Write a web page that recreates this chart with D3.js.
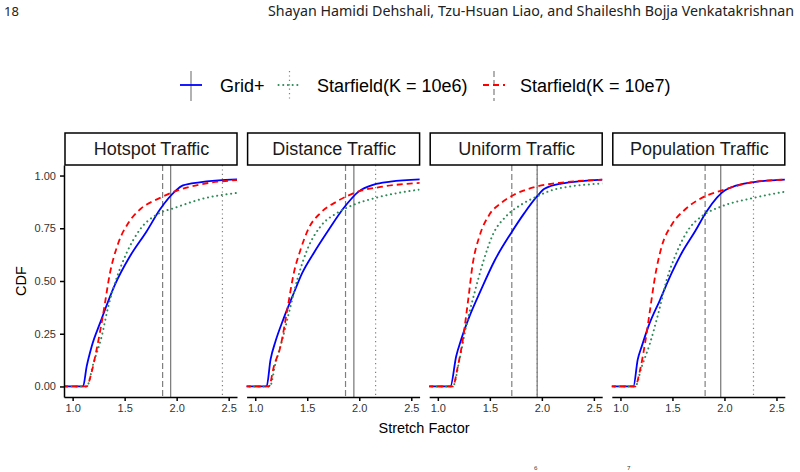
<!DOCTYPE html>
<html><head><meta charset="utf-8">
<script src="https://cdn.jsdelivr.net/npm/d3@7"></script>
<style>
html,body{margin:0;padding:0;background:#fff;}
svg{display:block;}
</style></head>
<body>
<svg id="chart" width="800" height="472"></svg>
<script>
// ---------------- data ----------------
const panelNames = ["Hotspot Traffic", "Distance Traffic", "Uniform Traffic", "Population Traffic"];
const seriesNames = ["Grid+", "Starfield(K = 10e6)", "Starfield(K = 10e7)"];
const xTicks = [1.0, 1.5, 2.0, 2.5];
const yTicks = [0, 0.25, 0.5, 0.75, 1.0];

// CDF points [stretch factor, cdf] per panel
const hotspotGrid = [[0.9,0],[1.10,0],[1.135,0.095],[1.183,0.19],[1.263,0.30],[1.407,0.483],[1.551,0.617],[1.712,0.736],[1.839,0.839],[1.984,0.925],[2.06,0.953],[2.22,0.968],[2.6,0.982]];
const hotspotK6   = [[0.9,0],[1.135,0],[1.2,0.11],[1.279,0.237],[1.343,0.38],[1.407,0.49],[1.519,0.633],[1.647,0.744],[1.808,0.815],[1.984,0.847],[2.22,0.886],[2.6,0.919]];
const hotspotK7   = [[0.9,0],[1.135,0],[1.18,0.063],[1.23,0.174],[1.295,0.348],[1.359,0.538],[1.439,0.68],[1.535,0.775],[1.647,0.839],[1.84,0.894],[1.984,0.925],[2.22,0.957],[2.6,0.979]];

const distanceGrid = [[0.9,0],[1.109,0],[1.147,0.127],[1.195,0.214],[1.275,0.325],[1.371,0.443],[1.452,0.538],[1.563,0.633],[1.708,0.744],[1.852,0.847],[1.996,0.925],[2.14,0.957],[2.30,0.971],[2.6,0.982]];
const distanceK6   = [[0.9,0],[1.14,0],[1.195,0.11],[1.26,0.222],[1.323,0.348],[1.404,0.506],[1.5,0.649],[1.628,0.759],[1.788,0.823],[1.948,0.862],[2.157,0.894],[2.6,0.935]];
const distanceK7   = [[0.9,0],[1.131,0],[1.179,0.095],[1.243,0.19],[1.308,0.364],[1.371,0.538],[1.436,0.649],[1.516,0.752],[1.628,0.823],[1.788,0.878],[1.996,0.925],[2.205,0.946],[2.6,0.966]];

const uniformGrid = [[0.9,0],[1.121,0],[1.176,0.142],[1.224,0.222],[1.304,0.332],[1.416,0.459],[1.544,0.595],[1.705,0.728],[1.833,0.823],[1.955,0.902],[2.025,0.937],[2.186,0.962],[2.6,0.981]];
const uniformK6   = [[0.9,0],[1.144,0],[1.208,0.127],[1.272,0.285],[1.352,0.443],[1.433,0.586],[1.529,0.72],[1.657,0.807],[1.801,0.862],[1.945,0.899],[2.121,0.934],[2.6,0.963]];
const uniformK7   = [[0.9,0],[1.144,0],[1.192,0.095],[1.24,0.222],[1.288,0.396],[1.337,0.586],[1.4,0.712],[1.496,0.815],[1.609,0.87],[1.737,0.91],[1.962,0.949],[2.218,0.968],[2.6,0.981]];

const populationGrid = [[0.9,0],[1.125,0],[1.166,0.127],[1.205,0.19],[1.269,0.285],[1.381,0.411],[1.493,0.538],[1.589,0.633],[1.718,0.736],[1.83,0.831],[2.006,0.93],[2.263,0.968],[2.6,0.981]];
const populationK6   = [[0.9,0],[1.141,0],[1.205,0.095],[1.285,0.206],[1.365,0.348],[1.445,0.506],[1.525,0.617],[1.654,0.744],[1.782,0.807],[1.974,0.854],[2.279,0.894],[2.6,0.925]];
const populationK7   = [[0.9,0],[1.141,0],[1.189,0.079],[1.237,0.206],[1.285,0.364],[1.333,0.522],[1.397,0.664],[1.493,0.767],[1.621,0.839],[1.782,0.894],[2.006,0.934],[2.263,0.968],[2.6,0.981]];

// vertical reference lines per panel
const refGrid = [1.942, 1.948, 1.955, 1.964];
const refK6   = [2.44, 2.157, 1.955, 2.279];
const refK7   = [1.865, 1.868, 1.711, 1.814];

const panelSeries = [
  [hotspotGrid, hotspotK6, hotspotK7],
  [distanceGrid, distanceK6, distanceK7],
  [uniformGrid, uniformK6, uniformK7],
  [populationGrid, populationK6, populationK7]
];
const panelRefs = panelNames.map((_, i) => [refGrid[i], refK6[i], refK7[i]]);

// ---------------- styles ----------------
const colors = ["#0000FF", "#2E8B57", "#FF0000"];
const dashes = [null, "0.1,4.6", "6,4"];
const widths = [1.8, 2.0, 1.8];
const caps = ["butt", "round", "butt"];
const refDashes = [null, "1.2,3.2", "6,3"];
const FONT = "'Liberation Sans', Arial, Helvetica, sans-serif";

const svg = d3.select("#chart");

// header
svg.append("text").attr("x", 4).attr("y", 16)
  .attr("font-family", "'Linux Biolinum O','Linux Biolinum','Noto Sans',sans-serif")
  .attr("font-size", 13).attr("fill", "#222").text("18");
svg.append("text").attr("x", 794).attr("y", 16).attr("text-anchor", "end")
  .attr("font-family", "'Linux Biolinum O','Linux Biolinum','Noto Sans',sans-serif")
  .attr("font-size", 14).attr("fill", "#222")
  .attr("textLength", 526).attr("lengthAdjust", "spacingAndGlyphs")
  .text("Shayan Hamidi Dehshali, Tzu-Hsuan Liao, and Shaileshh Bojja Venkatakrishnan");

// layout
const PANEL_LEFT = 64, PANEL_STEP = 182.6, PANEL_W = 173;
const PLOT_TOP = 165, PLOT_BOTTOM = 397;
const STRIP_TOP = 133;

const y = d3.scaleLinear().domain([-0.05, 1.05]).range([PLOT_BOTTOM, PLOT_TOP]);

const defs = svg.append("defs");

panelNames.forEach((name, i) => {
  const L = PANEL_LEFT + i * PANEL_STEP;
  const x = d3.scaleLinear().domain([0.917, 2.58]).range([L, L + PANEL_W]);
  const g = svg.append("g");

  defs.append("clipPath").attr("id", "clip" + i)
    .append("rect").attr("x", L).attr("y", PLOT_TOP).attr("width", PANEL_W).attr("height", PLOT_BOTTOM - PLOT_TOP);

  const plot = g.append("g").attr("clip-path", `url(#clip${i})`);

  // reference vertical lines
  panelRefs[i].forEach((v, s) => {
    plot.append("line")
      .attr("x1", x(v)).attr("x2", x(v))
      .attr("y1", PLOT_TOP).attr("y2", PLOT_BOTTOM)
      .attr("stroke", "#7f7f7f").attr("stroke-width", s === 0 ? 1.3 : 1.2)
      .attr("stroke-dasharray", refDashes[s]);
  });

  const line = d3.line().x(d => x(d[0])).y(d => y(d[1])).curve(d3.curveMonotoneX);
  [0, 1, 2].forEach(s => {
    plot.append("path").datum(panelSeries[i][s])
      .attr("d", line).attr("fill", "none")
      .attr("stroke", colors[s])
      .attr("stroke-width", widths[s])
      .attr("stroke-linecap", caps[s])
      .attr("stroke-dasharray", dashes[s]);
  });

  // x axis
  const xa = g.append("g").attr("transform", `translate(0,${PLOT_BOTTOM})`)
    .call(d3.axisBottom(x).tickValues(xTicks).tickFormat(d3.format(".1f")).tickSize(4).tickSizeOuter(0).tickPadding(3));
  xa.select(".domain").attr("stroke", "#000").attr("stroke-width", 1.5);
  xa.selectAll(".tick line").attr("stroke", "#000").attr("stroke-width", 1.5);
  xa.selectAll("text").attr("font-family", FONT).attr("font-size", 11).attr("fill", "#333");

  if (i === 0) {
    const ya = g.append("g").attr("transform", `translate(${L},0)`)
      .call(d3.axisLeft(y).tickValues(yTicks).tickFormat(d3.format(".2f")).tickSize(4).tickSizeOuter(0).tickPadding(4));
    ya.select(".domain").attr("stroke", "#000").attr("stroke-width", 1.5);
    ya.selectAll(".tick line").attr("stroke", "#000").attr("stroke-width", 1.5);
    ya.selectAll("text").attr("font-family", FONT).attr("font-size", 11).attr("fill", "#333");
  }

  // strip
  g.append("rect").attr("x", L + 1).attr("y", STRIP_TOP)
    .attr("width", PANEL_W - 1).attr("height", PLOT_TOP - STRIP_TOP)
    .attr("fill", "#fff").attr("stroke", "#000").attr("stroke-width", 1.5);
  g.append("text").attr("x", L + 1 + PANEL_W / 2).attr("y", (STRIP_TOP + PLOT_TOP) / 2 + 6.3)
    .attr("text-anchor", "middle").attr("font-family", FONT).attr("font-size", 18)
    .attr("fill", "#1a1a1a").text(name);
});

// axis titles
svg.append("text").attr("x", 424).attr("y", 433).attr("text-anchor", "middle")
  .attr("font-family", FONT).attr("font-size", 14.5).attr("fill", "#000").text("Stretch Factor");
svg.append("text").attr("transform", `translate(26,${(PLOT_TOP + PLOT_BOTTOM) / 2}) rotate(-90)`)
  .attr("text-anchor", "middle").attr("font-family", FONT).attr("font-size", 14.5).attr("fill", "#000").text("CDF");

// legend
const legendKeyX = [191, 289.5, 494];
const legendTextX = [220, 317, 520];
const LEG_Y = 85;
seriesNames.forEach((n, s) => {
  const cx = legendKeyX[s];
  svg.append("line").attr("x1", cx).attr("x2", cx).attr("y1", LEG_Y - 14).attr("y2", LEG_Y + 16)
    .attr("stroke", "#7f7f7f").attr("stroke-width", 1.2).attr("stroke-dasharray", refDashes[s]);
  svg.append("line").attr("x1", cx - 11).attr("x2", cx + 11).attr("y1", LEG_Y).attr("y2", LEG_Y)
    .attr("stroke", colors[s]).attr("stroke-width", widths[s])
    .attr("stroke-linecap", caps[s])
    .attr("stroke-dasharray", dashes[s]);
  svg.append("text").attr("x", legendTextX[s]).attr("y", LEG_Y + 6.5)
    .attr("font-family", FONT).attr("font-size", 18).attr("fill", "#000").text(n);
});

// small caption superscript fragments near the bottom edge
svg.append("text").attr("x", 534).attr("y", 470).attr("font-family", "'Noto Sans',sans-serif")
  .attr("font-size", 6).attr("fill", "#333").text("6");
svg.append("text").attr("x", 627).attr("y", 470).attr("font-family", "'Noto Sans',sans-serif")
  .attr("font-size", 6).attr("fill", "#333").text("7");
</script>
</body></html>
